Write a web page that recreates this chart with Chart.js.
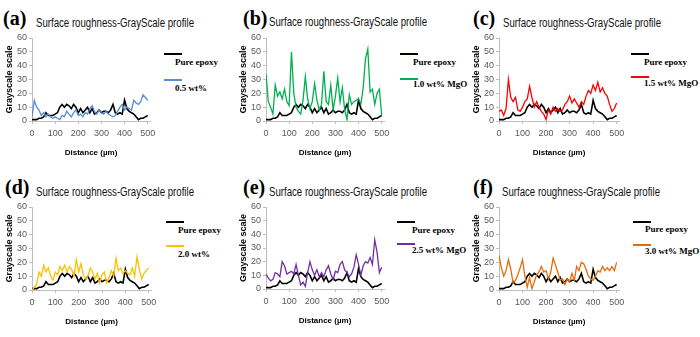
<!DOCTYPE html>
<html>
<head>
<meta charset="utf-8">
<script src="https://cdn.jsdelivr.net/npm/chart.js@4.4.1/dist/chart.umd.min.js"></script>
<style>
  body { margin: 0; background: #fff; }
  #fig { position: relative; width: 700px; height: 337px; overflow: hidden; background: #fff; }
  #fig canvas { position: absolute; }
  .lab { position: absolute; font: bold 20px "Liberation Serif", serif; line-height: 1; white-space: nowrap; }
  .ttl { position: absolute; font: 12px "Liberation Sans", sans-serif; line-height: 1; white-space: nowrap; transform-origin: 0 0; color: #111; }
  .leg { position: absolute; font: bold 9px "Liberation Serif", serif; line-height: 1; white-space: nowrap; }
  .swatch { position: absolute; height: 2px; }
</style>
</head>
<body>
<div id="fig"></div>
<script>
// distance along the profile (µm)
const distance = [0,10,20,30,40,50,60,70,80,90,100,110,120,130,140,150,160,170,180,190,200,
  210,220,230,240,250,260,270,280,290,300,310,320,330,340,350,360,370,380,390,400,
  410,420,430,440,450,460,470,480,490,500];

const pureEpoxy = [1,1,1,2,2,3,6,4,4,4,5,6,10,12,10,12,11,9,12,10,6,
  9,6,8,10,6,9,5,6,8,6,7,7,6,8,12,6,5,6,5,15,
  9,7,6,5,3,1,2,2,3,4];
const wt05 = [3,15,10,8,4,6,3,5,3,2,3,2,1,4,3,7,5,3,6,8,4,
  5,3,6,5,9,11,7,5,8,6,5,7,5,4,3,4,7,10,12,8,
  10,9,8,15,13,12,14,19,17,15];
const wt10 = [34,14,10,5,26,18,21,16,23,14,11,50,20,10,7,5,15,32,16,9,14,
  27,15,8,12,36,14,12,26,8,18,31,14,24,8,1,19,12,14,15,16,
  12,24,45,52,21,23,12,20,23,4];
const wt15 = [7,8,4,9,30,17,14,17,8,7,10,14,16,25,17,10,14,10,7,5,1,
  8,5,10,7,9,7,8,12,14,18,13,16,13,10,14,12,18,22,20,26,
  22,28,21,24,20,18,12,7,9,13];
const wt20 = [0,2,4,13,10,18,13,16,10,7,13,11,17,14,18,13,17,15,10,22,13,
  19,11,8,10,16,13,8,12,5,11,13,5,9,14,10,23,14,16,12,14,
  12,11,16,10,24,15,8,12,14,16];
const wt25 = [11,8,6,7,12,11,9,20,17,11,12,13,11,18,10,3,5,2,12,20,14,
  10,14,9,12,9,14,17,11,7,13,12,18,20,14,12,9,11,16,25,18,
  10,17,20,19,23,18,36,27,12,16];
const wt30 = [25,16,10,14,22,15,5,7,11,16,22,10,2,9,1,6,11,13,17,13,14,
  8,13,23,18,13,7,8,4,8,6,12,7,17,14,20,19,15,10,8,7,
  10,14,13,17,14,16,14,17,14,20];

const xTicks = [0,100,200,300,400,500];
const yTicks = [0,10,20,30,40,50,60];

const titleText = 'Surface roughness-GrayScale profile';

/* --- layout of the six panels (pixels) --- */
const panels = [
  { tag:'(a)', data: wt05, name:'0.5 wt%',     color:'#558ED5', x0:32,  x5:148, yT:38,  yB:121,
    lab:[3,8],   ttl:[36,17],  legX:164, legTX:175, l1:54,  t1:63,  l2:80,  t2:89 },
  { tag:'(b)', data: wt10, name:'1.0 wt% MgO', color:'#00B050', x0:266, x5:382, yT:38,  yB:121,
    lab:[243,8], ttl:[269,16], legX:400, legTX:413, l1:54,  t1:63,  l2:79,  t2:85 },
  { tag:'(c)', data: wt15, name:'1.5 wt% MgO', color:'#FF0000', x0:499, x5:617, yT:38,  yB:121,
    lab:[473,8], ttl:[503,17], legX:631, legTX:644, l1:54,  t1:63,  l2:77,  t2:84 },
  { tag:'(d)', data: wt20, name:'2.0 wt%',     color:'#FFC000', x0:32,  x5:149, yT:207, yB:290,
    lab:[5,177], ttl:[36,186], legX:166, legTX:178, l1:222, t1:231, l2:246, t2:255 },
  { tag:'(e)', data: wt25, name:'2.5 wt% MgO', color:'#7030A0', x0:266, x5:382, yT:207, yB:289,
    lab:[243,177], ttl:[269,186], legX:397, legTX:412, l1:222, t1:231, l2:244, t2:251 },
  { tag:'(f)', data: wt30, name:'3.0 wt% MgO', color:'#E46C0A', x0:499, x5:617, yT:207, yB:290,
    lab:[473,177], ttl:[502,186], legX:633, legTX:645, l1:222, t1:230, l2:245, t2:252 }
];

const fig = document.getElementById('fig');
const tickFont = { family: '"Liberation Sans", sans-serif', size: 9 };
const axisTitleFont = { family: '"Liberation Sans", sans-serif', size: 8, weight: 'bold' };

function addText(cls, text, left, top) {
  const d = document.createElement('div');
  d.className = cls;
  d.textContent = text;
  d.style.left = left + 'px';
  d.style.top = top + 'px';
  fig.appendChild(d);
  return d;
}

function addSwatch(color, left, y, width) {
  const s = document.createElement('div');
  s.className = 'swatch';
  s.style.background = color;
  s.style.left = left + 'px';
  s.style.top = (y - 1) + 'px';
  s.style.width = width + 'px';
  fig.appendChild(s);
}

function points(values) {
  return values.map((v, i) => ({ x: distance[i], y: v }));
}

/* --- one profile chart --- */
function makePanel(p) {
  const yAxisW = 30, padTop = 8, padRight = 10, xAxisH = 37;
  const right = p.x0 + (p.x5 - p.x0) * 510 / 500;
  const canvas = document.createElement('canvas');
  const w = Math.round(right - (p.x0 - yAxisW) + padRight);
  const h = Math.round(padTop + (p.yB - p.yT) + xAxisH);
  canvas.width = w; canvas.height = h;
  canvas.style.width = w + 'px'; canvas.style.height = h + 'px';
  canvas.style.left = (p.x0 - yAxisW) + 'px';
  canvas.style.top = (p.yT - padTop) + 'px';
  fig.appendChild(canvas);

  new Chart(canvas, {
    type: 'line',
    data: {
      datasets: [
        { label: p.name, data: points(p.data), borderColor: p.color, borderWidth: 1.3,
          pointRadius: 0, tension: 0, order: 1 },
        { label: 'Pure epoxy', data: points(pureEpoxy), borderColor: '#000', borderWidth: 1.6,
          pointRadius: 0, tension: 0, order: 2 }
      ]
    },
    options: {
      responsive: false,
      animation: false,
      devicePixelRatio: 1,
      layout: { padding: { top: padTop, right: padRight, bottom: 0, left: 0 } },
      plugins: { legend: { display: false }, tooltip: { enabled: false } },
      scales: {
        x: {
          type: 'linear', min: 0, max: 510,
          afterBuildTicks: s => { s.ticks = xTicks.map(v => ({ value: v })); },
          afterFit: s => { s.height = xAxisH; },
          grid: { drawOnChartArea: false, tickLength: 3, color: '#bfbfbf' },
          border: { color: '#bfbfbf' },
          ticks: { font: tickFont, color: '#595959', padding: 4, maxRotation: 0, autoSkip: false },
          title: { display: true, text: 'Distance (µm)', font: axisTitleFont, color: '#000', padding: 0 }
        },
        y: {
          min: 0, max: 60,
          afterBuildTicks: s => { s.ticks = yTicks.map(v => ({ value: v })); },
          afterFit: s => { s.width = yAxisW; },
          grid: { drawOnChartArea: false, tickLength: 3, color: '#bfbfbf' },
          border: { color: '#bfbfbf' },
          ticks: { font: tickFont, color: '#595959', padding: 2, autoSkip: false },
          title: { display: true, text: 'Grayscale scale', font: { family: '"Liberation Sans", sans-serif', size: 9, weight: 'bold' },
                   color: '#000', padding: { top: 2, bottom: 0 } }
        }
      }
    }
  });

  // panel letter, title and legend
  addText('lab', p.tag, p.lab[0], p.lab[1]);
  const t = addText('ttl', titleText, p.ttl[0], p.ttl[1]);
  const tw = t.getBoundingClientRect().width;
  t.style.transform = 'scaleX(' + (158 / tw) + ')';
  addSwatch('#000', p.legX, p.l1, 18);
  addText('leg', 'Pure epoxy', p.legTX, p.t1 - 5);
  addSwatch(p.color, p.legX, p.l2, 18);
  addText('leg', p.name, p.legTX, p.t2 - 5);
}

panels.forEach(makePanel);
</script>
</body>
</html>
